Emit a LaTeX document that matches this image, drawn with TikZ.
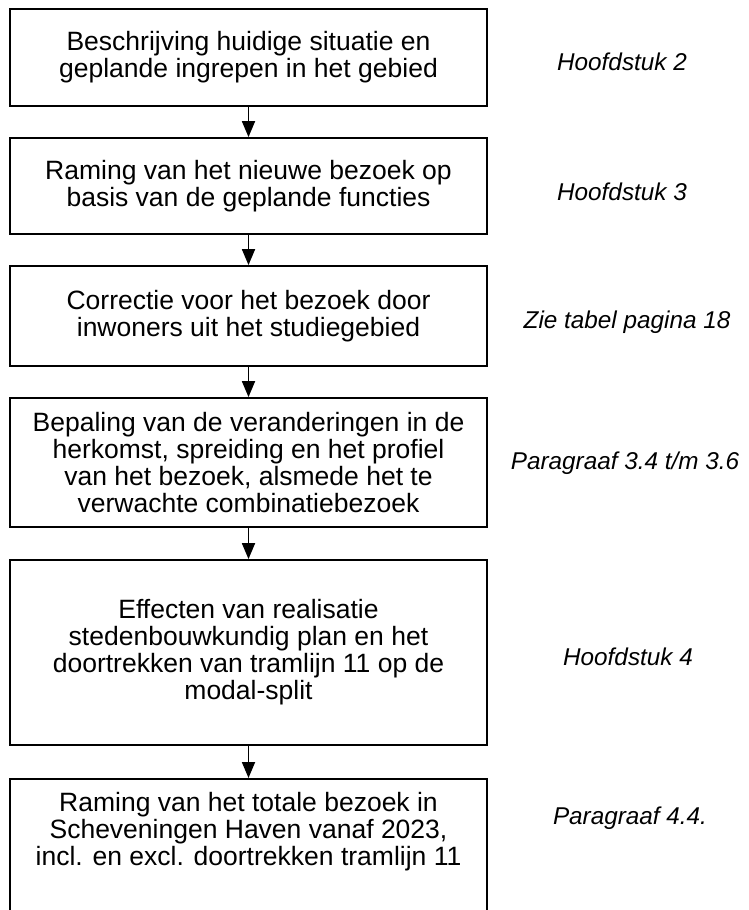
\documentclass[tikz,border=0pt]{standalone}
\usepackage{fontspec}
\setmainfont{Liberation Sans}
\usetikzlibrary{arrows.meta}
\begin{document}
\begin{tikzpicture}[x=1pt,y=-1pt,line width=1.8pt,line join=miter,>={Triangle[length=16pt,width=13pt]},
	stap/.style={draw,minimum width=477pt,align=center,inner sep=0pt,font=\fontsize{26.5}{27}\selectfont},
	bron/.style={font=\fontsize{24.3}{26}\selectfont\itshape}]
			\path[use as bounding box,clip] (0,0) rectangle (749,910);
			\node[stap,minimum height=97pt] (b1) at (248.5,57.5) {Beschrijving huidige situatie en\\geplande ingrepen in het gebied};
			\node[stap,minimum height=96pt] (b2) at (248.5,186) {Raming van het nieuwe bezoek op\\basis van de geplande functies};
			\node[stap,minimum height=100pt] (b3) at (248.5,316) {Correctie voor het bezoek door\\inwoners uit het studiegebied};
			\node[stap,minimum height=129pt] (b4) at (248.5,462.5) {Bepaling van de veranderingen in de\\herkomst, spreiding en het profiel\\van het bezoek, alsmede het te\\verwachte combinatiebezoek};
			\node[stap,minimum height=185pt] (b5) at (248.5,652.5) {Effecten van realisatie\\stedenbouwkundig plan en het\\doortrekken van tramlijn 11 op de\\modal-split};
			\node[stap,anchor=north,inner ysep=13pt,text depth=120pt] (b6) at (248.5,778) {Raming van het totale bezoek in\\Scheveningen Haven vanaf 2023,\\incl. en excl. doortrekken tramlijn 11};
			\draw[->] (b1) -- (b2);
			\draw[->] (b2) -- (b3);
			\draw[->] (b3) -- (b4);
			\draw[->] (b4) -- (b5);
			\draw[->] (b5) -- (b6);
			% verwijzingen naar de hoofdstukken
			\node[bron] (l1) at (622,62) {Hoofdstuk 2};
			\node[bron] (l2) at (622,192) {Hoofdstuk 3};
			\node[bron] (l3) at (627,322) {Zie tabel pagina 18};
			\node[bron] (l4) at (625,463) {Paragraaf 3.4 t/m 3.6};
			\node[bron] (l5) at (628,657) {Hoofdstuk 4};
			\node[bron] (l6) at (630,818) {Paragraaf 4.4.};
		\end{tikzpicture}
\end{document}
